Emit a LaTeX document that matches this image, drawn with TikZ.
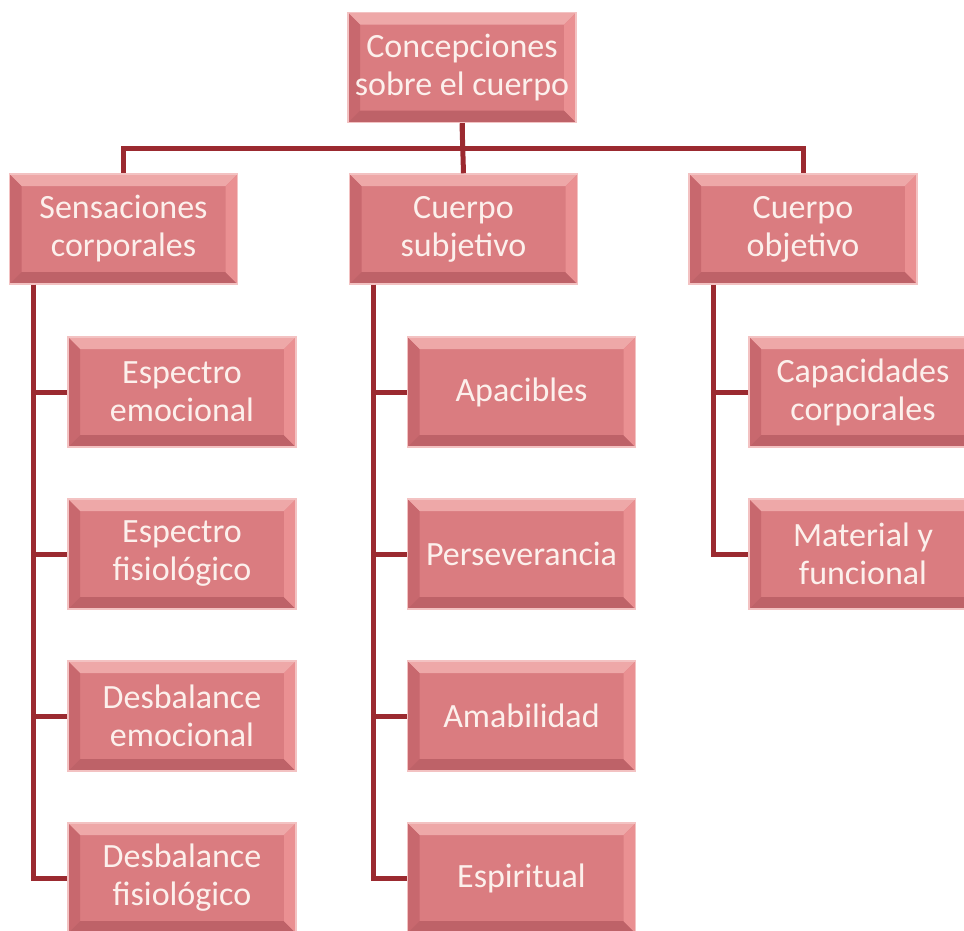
\documentclass[tikz,border=0pt]{standalone}
\usepackage{fontspec}
\setmainfont{Carlito}
\definecolor{linkred}{RGB}{155,42,48}
\definecolor{boxface}{RGB}{218,124,128}
\definecolor{bevtop}{RGB}{238,168,168}
\definecolor{bevleft}{RGB}{200,104,110}
\definecolor{bevbot}{RGB}{190,98,104}
\definecolor{bevright}{RGB}{234,144,146}
\definecolor{boxtext}{RGB}{252,240,236}
\tikzset{
  link/.style={draw=linkred,line width=5pt},
  bevelbox/.style={fill=boxface,draw=bevtop!70!white,line width=1.5pt,
    minimum width=228pt,minimum height=110pt,inner sep=0pt,align=center,
    text=boxtext,font=\fontsize{34}{38}\selectfont,
    path picture={
      \fill[bevtop] (path picture bounding box.north west) -- (path picture bounding box.north east)
        -- ([shift={(-12pt,-12pt)}]path picture bounding box.north east) -- ([shift={(12pt,-12pt)}]path picture bounding box.north west) -- cycle;
      \fill[bevleft] (path picture bounding box.north west) -- (path picture bounding box.south west)
        -- ([shift={(12pt,12pt)}]path picture bounding box.south west) -- ([shift={(12pt,-12pt)}]path picture bounding box.north west) -- cycle;
      \fill[bevbot] (path picture bounding box.south west) -- (path picture bounding box.south east)
        -- ([shift={(-12pt,12pt)}]path picture bounding box.south east) -- ([shift={(12pt,12pt)}]path picture bounding box.south west) -- cycle;
      \fill[bevright] (path picture bounding box.north east) -- (path picture bounding box.south east)
        -- ([shift={(-12pt,12pt)}]path picture bounding box.south east) -- ([shift={(-12pt,-12pt)}]path picture bounding box.north east) -- cycle;
    }},
}
\begin{document}
\begin{tikzpicture}[x=1pt,y=-1pt]
\useasboundingbox (0,0) rectangle (964,930);
\clip (0,0) rectangle (964,930);
\node[bevelbox] (top) at (462,67.5) {Concepciones\\sobre el cuerpo};
\node[bevelbox] (sens) at (123.5,229) {Sensaciones\\corporales};
\node[bevelbox] (subj) at (463.5,229) {Cuerpo\\subjetivo};
\node[bevelbox] (obj) at (803,229) {Cuerpo\\objetivo};
%children
\node[bevelbox] (espem) at (182,392) {Espectro\\emocional};
\node[bevelbox] (espfis) at (182,554) {Espectro\\fisiológico};
\node[bevelbox] (desem) at (182,716) {Desbalance\\emocional};
\node[bevelbox] (desfis) at (182,878) {Desbalance\\fisiológico};
\node[bevelbox] (apac) at (521.5,392) {Apacibles};
\node[bevelbox] (pers) at (521.5,554) {Perseverancia};
\node[bevelbox] (amab) at (521.5,716) {Amabilidad};
\node[bevelbox] (espi) at (521.5,878) {Espiritual};
\node[bevelbox] (capac) at (863,392) {Capacidades\\corporales};
\node[bevelbox] (mater) at (863,554) {Material y\\funcional};
%connectors
\draw[link] (top.south) -- ++(0,25) -| (sens.north);
\draw[link] (top.south) -- ++(0,25) -| (obj.north);
\draw[link] (top.south) -- (subj.north);
\foreach \c in {espem,espfis,desem,desfis}
  \draw[link] ([xshift=25pt]sens.south west) |- (\c.west);
\foreach \c in {apac,pers,amab,espi}
  \draw[link] ([xshift=25pt]subj.south west) |- (\c.west);
\foreach \c in {capac,mater}
  \draw[link] ([xshift=25pt]obj.south west) |- (\c.west);
\end{tikzpicture}
\end{document}
